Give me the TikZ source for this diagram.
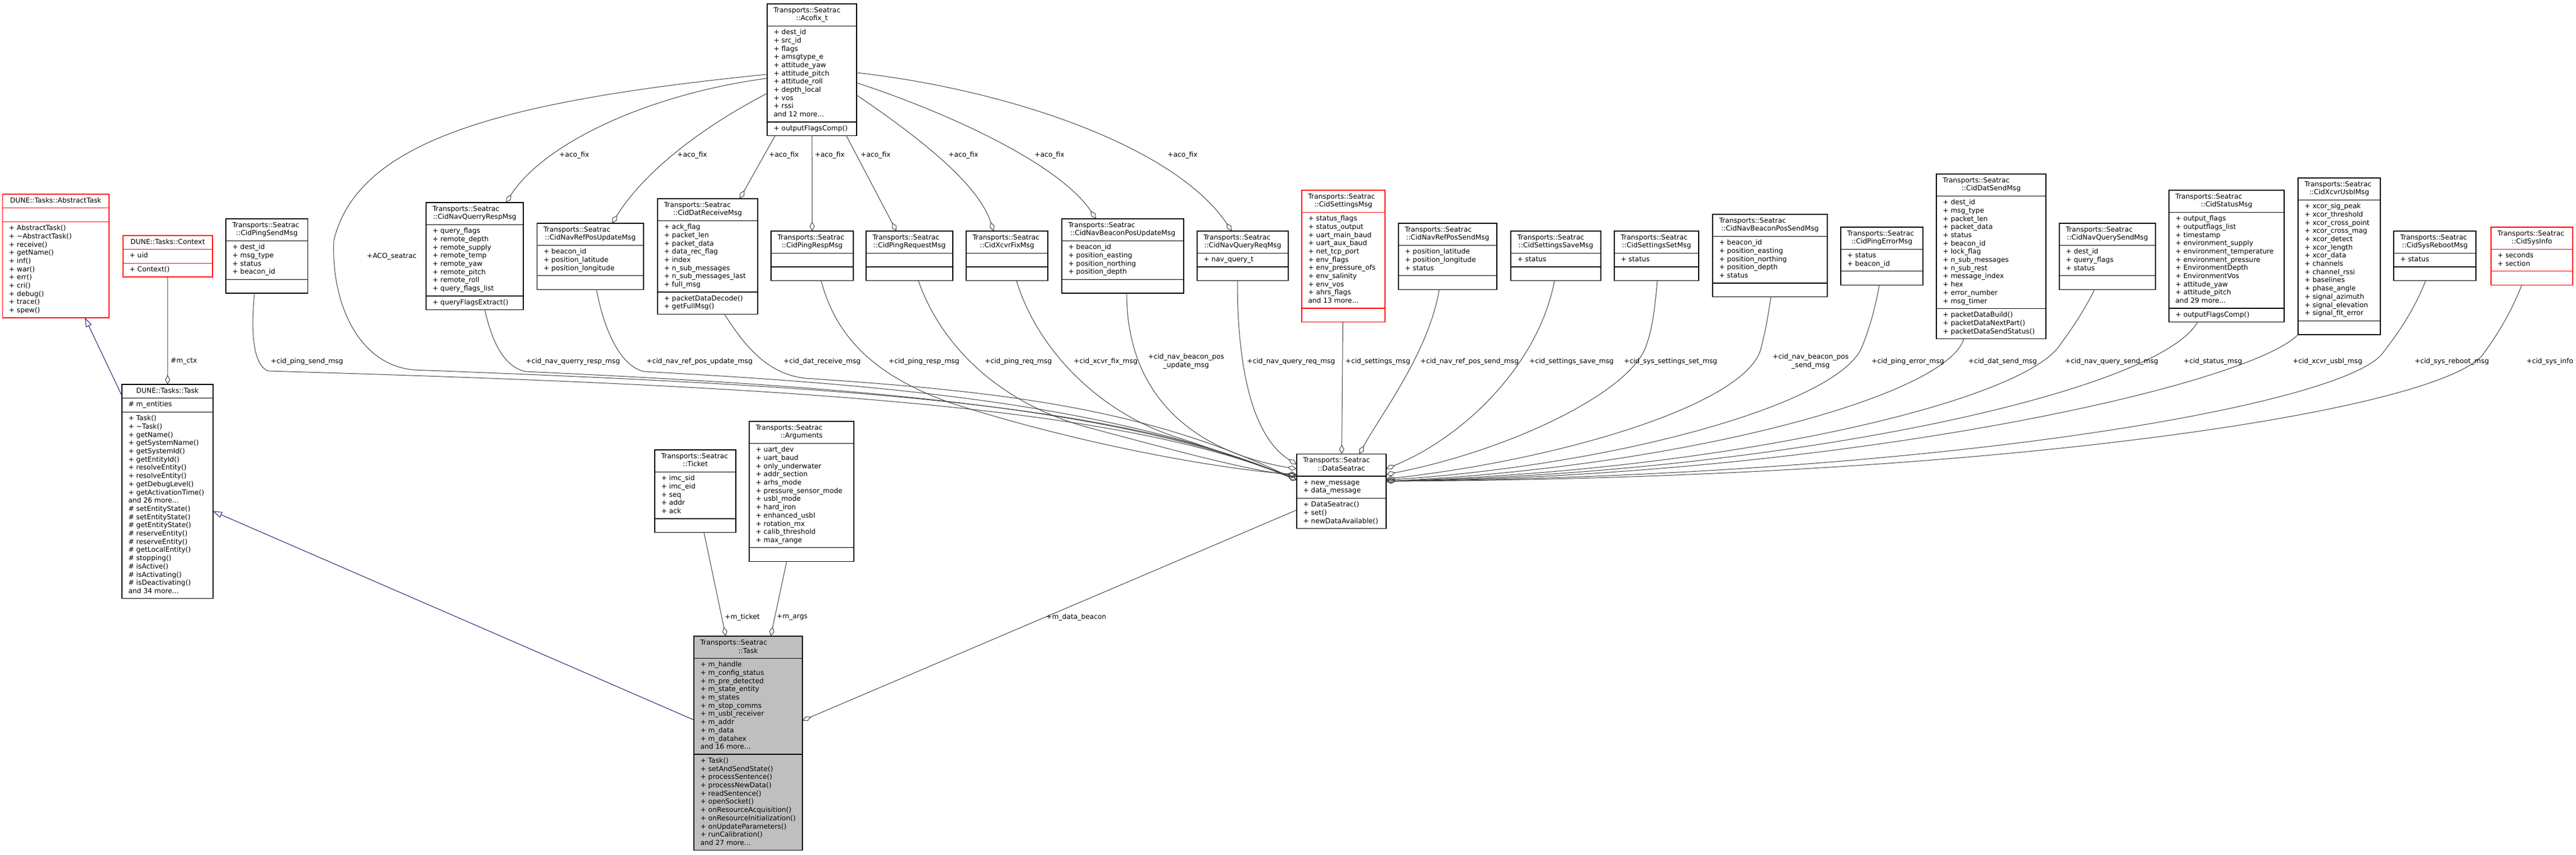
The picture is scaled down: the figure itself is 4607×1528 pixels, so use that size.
\documentclass[tikz,border=0pt]{standalone}
\usepackage{fontspec}
\setmainfont{DejaVu Sans}
\usetikzlibrary{arrows.meta}
\definecolor{edgegray}{RGB}{64,64,64}
\definecolor{inhblue}{RGB}{25,25,112}
\definecolor{boxred}{RGB}{255,0,0}
\definecolor{taskgray}{RGB}{191,191,191}
\newcommand\fs{\fontsize{12.3pt}{14.7pt}\selectfont}
\newdimen\TW
\makeatletter
\newcommand\LL[1]{\vbox{\hsize=\TW\@for\cl@x:=#1\do{\hbox to\hsize{\cl@x\strut\hfil}}}}
\makeatother
\newcommand\HH[2]{\vbox{\hsize=\TW\hbox to\hsize{#1\strut\hfil}\hbox to\hsize{\hfil#2\strut\hfil}}}
\newcommand\HO[1]{\vbox{\hsize=\TW\hbox to\hsize{\hfil#1\strut\hfil}}}
% \cls{name}{style}{x}{y}{width}{header lines}{attribute lines}{method lines}
\newcommand\cls[8]{%
  \def\cN{#1}%
  \pgfmathsetmacro\hA{10+14.7*#6}%
  \pgfmathsetmacro\hAB{\hA+10+14.7*#7}%
  \pgfmathsetmacro\hT{\hAB+10+14.7*#8}%
  \TW=#5pt\advance\TW by -23pt\relax
  \node[box,#2,minimum width=#5pt,minimum height=\hT pt] (#1) at (#3,#4) {};
  \draw[#2,line width=1.3pt] ([yshift=-\hA pt]#1.north west) -- ([yshift=-\hA pt]#1.north east);
  \draw[#2,line width=1.3pt] ([yshift=-\hAB pt]#1.north west) -- ([yshift=-\hAB pt]#1.north east);
}
\newcommand\ctext[3]{%
  \node[txt] (\cN-h) at ([shift={(11.5pt,-5pt)}]\cN.north west) {#1};
  \node[txt] (\cN-a) at ([shift={(11.5pt,-\hA pt-5pt)}]\cN.north west) {#2};
  \node[txt] (\cN-m) at ([shift={(11.5pt,-\hAB pt-5pt)}]\cN.north west) {#3};
}
\tikzset{
  box/.style={rectangle, draw=black, line width=1.3pt, fill=white, inner sep=0pt, outer sep=0pt, anchor=north west},
  txt/.style={anchor=north west, inner sep=0pt, outer sep=0pt, font=\fs},
  coll/.style={draw=edgegray, line width=1pt, -{Diamond[open,length=17pt,width=9pt]}},
  inh/.style={draw=inhblue, line width=1pt, -{Triangle[open,length=16pt,width=11pt]}},
  lbl/.style={anchor=west, inner sep=0pt, font=\fs},
}
\begin{document}
\begin{tikzpicture}[x=1pt,y=-1pt]
\fill[white] (0,0) rectangle (4607,1528);
\useasboundingbox (0,0) rectangle (4607,1528);

% ---------- classes ----------
\cls{abstract}{draw=boxred}{4.5}{347}{190.5}{1}{1}{11}
\ctext{\HO{DUNE::Tasks::AbstractTask}}{}{\LL{+ AbstractTask(),+ \textasciitilde AbstractTask(),+ receive(),+ getName(),+ inf(),+ war(),+ err(),+ cri(),+ debug(),+ trace(),+ spew()}}
\cls{context}{draw=boxred}{220}{421}{160}{1}{1}{1}
\ctext{\HO{DUNE::Tasks::Context}}{\LL{+ uid}}{\LL{+ Context()}}
\cls{dtask}{}{218}{687}{163}{1}{1}{22}
\ctext{\HO{DUNE::Tasks::Task}}{\LL{\# m\_entities}}{\LL{+ Task(),+ \textasciitilde Task(),+ getName(),+ getSystemName(),+ getSystemId(),+ getEntityId(),+ resolveEntity(),+ resolveEntity(),+ getDebugLevel(),+ getActivationTime(),and 26 more...,\# setEntityState(),\# setEntityState(),\# getEntityState(),\# reserveEntity(),\# reserveEntity(),\# getLocalEntity(),\# stopping(),\# isActive(),\# isActivating(),\# isDeactivating(),and 34 more...}}
\cls{pingsend}{}{404}{391}{146.5}{2}{4}{1}
\ctext{\HH{Transports::Seatrac}{::CidPingSendMsg}}{\LL{+ dest\_id,+ msg\_type,+ status,+ beacon\_id}}{}
\cls{aco}{}{1372}{7}{160}{2}{11}{1}
\ctext{\HH{Transports::Seatrac}{::Acofix\_t}}{\LL{+ dest\_id,+ src\_id,+ flags,+ amsgtype\_e,+ attitude\_yaw,+ attitude\_pitch,+ attitude\_roll,+ depth\_local,+ vos,+ rssi,and 12 more...}}{\LL{+ outputFlagsComp()}}
\cls{nqr}{}{762}{362}{174}{2}{8}{1}
\ctext{\HH{Transports::Seatrac}{::CidNavQuerryRespMsg}}{\LL{+ query\_flags,+ remote\_depth,+ remote\_supply,+ remote\_temp,+ remote\_yaw,+ remote\_pitch,+ remote\_roll,+ query\_flags\_list}}{\LL{+ queryFlagsExtract()}}
\cls{nrpu}{}{960.5}{399}{190.5}{2}{3}{1}
\ctext{\HH{Transports::Seatrac}{::CidNavRefPosUpdateMsg}}{\LL{+ beacon\_id,+ position\_latitude,+ position\_longitude}}{}
\cls{drecv}{}{1176}{355}{179}{2}{8}{2}
\ctext{\HH{Transports::Seatrac}{::CidDatReceiveMsg}}{\LL{+ ack\_flag,+ packet\_len,+ packet\_data,+ data\_rec\_flag,+ index,+ n\_sub\_messages,+ n\_sub\_messages\_last,+ full\_msg}}{\LL{+ packetDataDecode(),+ getFullMsg()}}
\cls{presp}{}{1379}{413}{147}{2}{1}{1}
\ctext{\HH{Transports::Seatrac}{::CidPingRespMsg}}{}{}
\cls{preq}{}{1549}{413}{155}{2}{1}{1}
\ctext{\HH{Transports::Seatrac}{::CidPingRequestMsg}}{}{}
\cls{xfix}{}{1728}{413}{146}{2}{1}{1}
\ctext{\HH{Transports::Seatrac}{::CidXcvrFixMsg}}{}{}
\cls{nbpu}{}{1899}{391}{218}{2}{4}{1}
\ctext{\HH{Transports::Seatrac}{::CidNavBeaconPosUpdateMsg}}{\LL{+ beacon\_id,+ position\_easting,+ position\_northing,+ position\_depth}}{}
\cls{nqreq}{}{2141}{413}{163}{2}{1}{1}
\ctext{\HH{Transports::Seatrac}{::CidNavQueryReqMsg}}{\LL{+ nav\_query\_t}}{}
\cls{settings}{draw=boxred}{2328}{340}{149}{2}{11}{1}
\ctext{\HH{Transports::Seatrac}{::CidSettingsMsg}}{\LL{+ status\_flags,+ status\_output,+ uart\_main\_baud,+ uart\_aux\_baud,+ net\_tcp\_port,+ env\_flags,+ env\_pressure\_ofs,+ env\_salinity,+ env\_vos,+ ahrs\_flags,and 13 more...}}{}
\cls{nrps}{}{2501}{399}{176}{2}{3}{1}
\ctext{\HH{Transports::Seatrac}{::CidNavRefPosSendMsg}}{\LL{+ position\_latitude,+ position\_longitude,+ status}}{}
\cls{ssave}{}{2702}{413}{161}{2}{1}{1}
\ctext{\HH{Transports::Seatrac}{::CidSettingsSaveMsg}}{\LL{+ status}}{}
\cls{sset}{}{2887}{413}{151}{2}{1}{1}
\ctext{\HH{Transports::Seatrac}{::CidSettingsSetMsg}}{\LL{+ status}}{}
\cls{nbps}{}{3063}{383}{205}{2}{5}{1}
\ctext{\HH{Transports::Seatrac}{::CidNavBeaconPosSendMsg}}{\LL{+ beacon\_id,+ position\_easting,+ position\_northing,+ position\_depth,+ status}}{}
\cls{perr}{}{3292}{406}{147}{2}{2}{1}
\ctext{\HH{Transports::Seatrac}{::CidPingErrorMsg}}{\LL{+ status,+ beacon\_id}}{}
\cls{dsend}{}{3463}{311}{196}{2}{13}{3}
\ctext{\HH{Transports::Seatrac}{::CidDatSendMsg}}{\LL{+ dest\_id,+ msg\_type,+ packet\_len,+ packet\_data,+ status,+ beacon\_id,+ lock\_flag,+ n\_sub\_messages,+ n\_sub\_rest,+ message\_index,+ hex,+ error\_number,+ msg\_timer}}{\LL{+ packetDataBuild(),+ packetDataNextPart(),+ packetDataSendStatus()}}
\cls{nqs}{}{3683}{399}{172}{2}{3}{1}
\ctext{\HH{Transports::Seatrac}{::CidNavQuerySendMsg}}{\LL{+ dest\_id,+ query\_flags,+ status}}{}
\cls{status}{}{3879}{340}{206}{2}{11}{1}
\ctext{\HH{Transports::Seatrac}{::CidStatusMsg}}{\LL{+ output\_flags,+ outputflags\_list,+ timestamp,+ environment\_supply,+ environment\_temperature,+ environment\_pressure,+ EnvironmentDepth,+ EnvironmentVos,+ attitude\_yaw,+ attitude\_pitch,and 29 more...}}{\LL{+ outputFlagsComp()}}
\cls{xusbl}{}{4110}{318}{147}{2}{14}{1}
\ctext{\HH{Transports::Seatrac}{::CidXcvrUsblMsg}}{\LL{+ xcor\_sig\_peak,+ xcor\_threshold,+ xcor\_cross\_point,+ xcor\_cross\_mag,+ xcor\_detect,+ xcor\_length,+ xcor\_data,+ channels,+ channel\_rssi,+ baselines,+ phase\_angle,+ signal\_azimuth,+ signal\_elevation,+ signal\_fit\_error}}{}
\cls{reboot}{}{4281}{413}{147}{2}{1}{1}
\ctext{\HH{Transports::Seatrac}{::CidSysRebootMsg}}{\LL{+ status}}{}
\cls{sysinfo}{draw=boxred}{4455}{406}{146}{2}{2}{1}
\ctext{\HH{Transports::Seatrac}{::CidSysInfo}}{\LL{+ seconds,+ section}}{}
\cls{ds}{}{2319}{811.5}{160}{2}{2}{3}
\ctext{\HH{Transports::Seatrac}{::DataSeatrac}}{\LL{+ new\_message,+ data\_message}}{\LL{+ DataSeatrac(),+ set(),+ newDataAvailable()}}
\cls{ticket}{}{1171}{804}{145}{2}{5}{1}
\ctext{\HH{Transports::Seatrac}{::Ticket}}{\LL{+ imc\_sid,+ imc\_eid,+ seq,+ addr,+ ack}}{}
\cls{args}{}{1340}{753}{187}{2}{12}{1}
\ctext{\HH{Transports::Seatrac}{::Arguments}}{\LL{+ uart\_dev,+ uart\_baud,+ only\_underwater,+ addr\_section,+ arhs\_mode,+ pressure\_sensor\_mode,+ usbl\_mode,+ hard\_iron,+ enhanced\_usbl,+ rotation\_mx,+ calib\_threshold,+ max\_range}}{}
\cls{stask}{fill=taskgray}{1241}{1137}{194}{2}{11}{11}
\ctext{\HH{Transports::Seatrac}{::Task}}{\LL{+ m\_handle,+ m\_config\_status,+ m\_pre\_detected,+ m\_state\_entity,+ m\_states,+ m\_stop\_comms,+ m\_usbl\_receiver,+ m\_addr,+ m\_data,+ m\_datahex,and 16 more...}}{\LL{+ Task(),+ setAndSendState(),+ processSentence(),+ processNewData(),+ readSentence(),+ openSocket(),+ onResourceAcquisition(),+ onResourceInitialization(),+ onUpdateParameters(),+ runCalibration(),and 27 more...}}

% ---------- straight connectors ----------
\draw[inh] (dtask) -- (abstract);
\draw[inh] (stask) -- (dtask);
\draw[coll] (context) -- (dtask);
\draw[coll] (ticket) -- (stask);
\draw[coll] (args) -- (stask);
\draw[coll] (ds) -- (stask);

% ---------- aco_fix connectors ----------
\draw[coll] ([yshift=-15pt]aco.west) .. controls (1150,170) and (970,260) .. ([xshift=56pt]nqr.north);
\draw[coll] ([yshift=-42pt]aco.west) .. controls (1250,230) and (1150,310) .. ([xshift=39pt]nrpu.north);
\draw[coll] (aco) -- (drecv);
\draw[coll] (aco) -- (presp);
\draw[coll] (aco) -- (preq);
\draw[coll] ([yshift=-45pt]aco.east) .. controls (1650,250) and (1750,330) .. ([xshift=-24pt]xfix.north);
\draw[coll] ([yshift=-23pt]aco.east) .. controls (1720,210) and (1900,300) .. ([xshift=-48pt]nbpu.north);
\draw[coll] ([yshift=-5pt]aco.east) .. controls (1800,160) and (2100,260) .. ([xshift=-19.5pt]nqreq.north);

% ---------- members of DataSeatrac, left side ----------
\draw[coll] ([yshift=-8pt]aco.west) .. controls (900,180) and (640,250) .. (597,430) .. controls (592,540) and (640,652) .. (740,661) .. controls (1500,690) and (2000,720) .. ([yshift=20pt]ds.west);
\draw[coll] ([xshift=-22pt]pingsend.south) .. controls (447,600) and (455,655) .. (480,663) .. controls (1400,690) and (2000,725) .. ([yshift=20pt]ds.west);
\draw[coll] ([xshift=18pt]nqr.south) .. controls (880,610) and (900,655) .. (940,664) .. controls (1500,690) and (2000,725) .. ([yshift=20pt]ds.west);
\draw[coll] ([xshift=11pt]nrpu.south) .. controls (1080,590) and (1110,655) .. (1152,664) .. controls (1600,688) and (2000,725) .. ([yshift=20pt]ds.west);
\draw[coll] ([xshift=30pt]drecv.south) .. controls (1330,615) and (1370,668) .. (1440,676) .. controls (1800,700) and (2050,730) .. ([yshift=20pt]ds.west);
\draw[coll] ([xshift=16pt]presp.south) .. controls (1495,600) and (1560,670) .. (1700,720) .. controls (1950,800) and (2200,840) .. ([yshift=30pt]ds.west);
\draw[coll] ([xshift=16pt]preq.south) .. controls (1680,610) and (1780,720) .. (1950,765) .. controls (2100,805) and (2230,840) .. ([yshift=28pt]ds.west);
\draw[coll] ([xshift=17pt]xfix.south) .. controls (1850,610) and (1950,730) .. (2100,780) .. controls (2200,812) and (2270,840) .. ([yshift=26pt]ds.west);
\draw[coll] ([xshift=7pt]nbpu.south) .. controls (2015,720) and (2150,810) .. ([yshift=40pt]ds.west);
\draw[coll] ([xshift=-9.5pt]nqreq.south) .. controls (2213,700) and (2255,790) .. ([yshift=48pt]ds.west);
\draw[coll] (settings) -- (ds);

% ---------- members of DataSeatrac, right side ----------
\draw[coll] ([xshift=-15pt]nrps.south) .. controls (2555,630) and (2470,740) .. ([xshift=32pt]ds.north);
\draw[coll] ([xshift=-2.5pt]ssave.south) .. controls (2752,650) and (2620,780) .. ([yshift=40pt]ds.east);
\draw[coll] ([xshift=1.5pt]sset.south) .. controls (2958,570) and (2952,595) .. (2945,615) .. controls (2920,700) and (2700,805) .. ([yshift=30pt]ds.east);
\draw[coll] ([xshift=1.5pt]nbps.south) .. controls (3160,580) and (3155,600) .. (3150,620) .. controls (3130,720) and (2800,820) .. ([yshift=22pt]ds.east);
\draw[coll] ([xshift=-4.5pt]perr.south) .. controls (3352,560) and (3340,595) .. (3330,620) .. controls (3290,720) and (2900,830) .. ([yshift=20pt]ds.east);
\draw[coll] ([xshift=-49pt]dsend.south) .. controls (3480,710) and (3000,835) .. ([yshift=18pt]ds.east);
\draw[coll] ([xshift=-23pt]nqs.south) .. controls (3725,560) and (3700,595) .. (3680,622) .. controls (3600,720) and (3100,840) .. ([yshift=18pt]ds.east);
\draw[coll] ([xshift=-52pt]status.south) .. controls (3860,700) and (3200,845) .. ([yshift=18pt]ds.east);
\draw[coll] (xusbl.south west) .. controls (4020,690) and (3300,850) .. ([yshift=18pt]ds.east);
\draw[coll] ([xshift=-16.5pt]reboot.south) .. controls (4315,560) and (4285,600) .. (4262,630) .. controls (4200,720) and (3500,850) .. ([yshift=18pt]ds.east);
\draw[coll] ([xshift=-18pt]sysinfo.south) .. controls (4490,560) and (4465,600) .. (4443,630) .. controls (4380,730) and (3600,855) .. ([yshift=18pt]ds.east);

% ---------- labels ----------
\node[lbl] (lctx) at (305,646) {\#m\_ctx};
\node[lbl] (lacoseat) at (656,458) {+ACO\_seatrac};
\node[lbl] (laf1) at (1000,277) {+aco\_fix};
\node[lbl] (laf2) at (1211,277) {+aco\_fix};
\node[lbl] (laf3) at (1375,277) {+aco\_fix};
\node[lbl] (laf4) at (1457,277) {+aco\_fix};
\node[lbl] (laf5) at (1539,277) {+aco\_fix};
\node[lbl] (laf6) at (1696,277) {+aco\_fix};
\node[lbl] (laf7) at (1850,277) {+aco\_fix};
\node[lbl] (laf8) at (2088,277) {+aco\_fix};
\node[lbl] (lm1) at (484,646) {+cid\_ping\_send\_msg};
\node[lbl] (lm2) at (940,646) {+cid\_nav\_querry\_resp\_msg};
\node[lbl] (lm3) at (1156,646) {+cid\_nav\_ref\_pos\_update\_msg};
\node[lbl] (lm4) at (1401,646) {+cid\_dat\_receive\_msg};
\node[lbl] (lm5) at (1589,646) {+cid\_ping\_resp\_msg};
\node[lbl] (lm6) at (1761,646) {+cid\_ping\_req\_msg};
\node[lbl] (lm7) at (1920,646) {+cid\_xcvr\_fix\_msg};
\node[lbl,align=center] (lm8) at (2053,646) {+cid\_nav\_beacon\_pos\\\_update\_msg};
\node[lbl] (lm9) at (2230,646) {+cid\_nav\_query\_req\_msg};
\node[lbl] (lm10) at (2406,646) {+cid\_settings\_msg};
\node[lbl] (lm11) at (2540,646) {+cid\_nav\_ref\_pos\_send\_msg};
\node[lbl] (lm12) at (2735,646) {+cid\_settings\_save\_msg};
\node[lbl] (lm13) at (2904,646) {+cid\_sys\_settings\_set\_msg};
\node[lbl,align=center] (lm14) at (3170,646) {+cid\_nav\_beacon\_pos\\\_send\_msg};
\node[lbl] (lm15) at (3347,646) {+cid\_ping\_error\_msg};
\node[lbl] (lm16) at (3520,646) {+cid\_dat\_send\_msg};
\node[lbl] (lm17) at (3693,646) {+cid\_nav\_query\_send\_msg};
\node[lbl] (lm18) at (3905,646) {+cid\_status\_msg};
\node[lbl] (lm19) at (4100,646) {+cid\_xcvr\_usbl\_msg};
\node[lbl] (lm20) at (4318,646) {+cid\_sys\_reboot\_msg};
\node[lbl] (lm21) at (4518,646) {+cid\_sys\_info};
\node[lbl] (ltk) at (1296,1103) {+m\_ticket};
\node[lbl] (lar) at (1389,1103) {+m\_args};
\node[lbl] (ldb) at (1871,1103) {+m\_data\_beacon};
\end{tikzpicture}
\end{document}
